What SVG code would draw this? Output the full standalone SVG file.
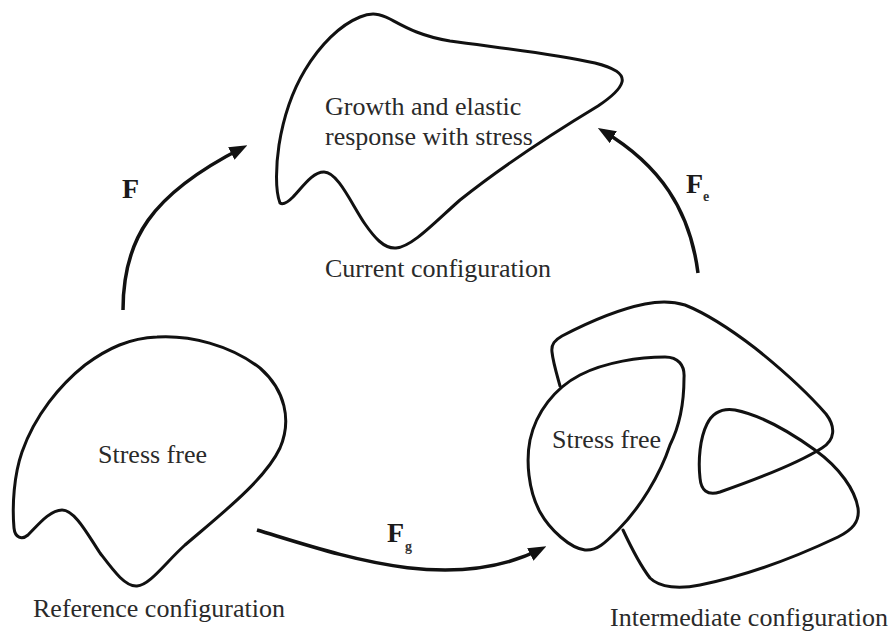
<svg xmlns="http://www.w3.org/2000/svg" width="894" height="633" viewBox="0 0 894 633">
<style>
.shape{fill:none;stroke:#111;stroke-width:3;stroke-linejoin:round;stroke-linecap:round}
.arrow{fill:none;stroke:#111;stroke-width:3.5;stroke-linecap:butt}
text{font-family:'Liberation Serif','Times New Roman',serif}
.lbl{font-size:26px;fill:#2a2a2a}
.sym{font-size:28px;font-weight:bold;fill:#1a1a1a}
.sub{font-size:14px;font-weight:bold;fill:#333}
</style>
<defs>
<marker id="ah" markerUnits="userSpaceOnUse" markerWidth="18" markerHeight="14" refX="12" refY="7" orient="auto">
<path d="M0,0 L18,7 L0,14 z" fill="#111"/>
</marker>
</defs>
<rect width="894" height="633" fill="#fff"/>
<g id="current">
<path class="shape" d="M280,203 C275,190 276,165 279,145 C283,120 290,95 305,70 C320,45 340,25 360,17 C372,12 380,14 390,19 C405,27 420,36 450,41 C500,48 550,53 595,63 C615,68 624,74 622,82 C620,90 610,98 598,106 C555,132 500,168 460,200 C435,222 412,247 396,248 C384,249 374,237 365,224 C352,205 338,172 324,172 C312,172 302,188 293,197 C288,202 283,205 280,203 Z"/>
<text class="lbl" font-family="Liberation Serif" x="325" y="115">Growth and elastic</text>
<text class="lbl" font-family="Liberation Serif" x="325" y="145">response with stress</text>
<text class="lbl" font-family="Liberation Serif" x="325" y="277">Current configuration</text>
</g>
<g id="reference">
<path class="shape" d="M157,337 C190,335 230,345 260,368 C285,390 292,420 280,448 C265,480 220,515 185,545 C165,563 150,585 137,586 C125,587 113,570 100,553 C88,535 75,510 62,510 C50,510 38,525 28,535 C22,540 15,538 14,528 C12,505 14,475 22,452 C35,415 60,385 85,365 C108,348 130,338 157,337 Z"/>
<text class="lbl" font-family="Liberation Serif" x="98" y="463">Stress free</text>
<text class="lbl" font-family="Liberation Serif" x="33" y="617">Reference configuration</text>
</g>
<g id="intermediate">
<path class="shape" d="M684,378 C684,400 680,425 670,445 C660,475 640,508 618,530 C605,543 597,551 585,550 C570,548 550,530 540,512 C528,490 526,460 530,440 C536,412 555,388 580,375 C605,362 640,357 665,357 C678,357 685,365 684,378 Z"/>
<path class="shape" d="M560,386 C557,375 553,362 552,352 C551,344 555,340 562,336 C585,324 615,310 645,304 C660,301 672,301 685,305 C700,311 725,325 755,348 C785,372 812,398 826,414 C836,427 835,440 822,448 C800,462 760,478 720,492 C707,496 701,490 700,478 C698,460 700,438 707,424 C713,412 722,408 735,410 C760,415 790,432 815,450 C840,468 855,490 858,508 C860,522 852,530 838,537 C800,555 750,575 700,585 C680,589 660,588 650,578 C640,565 630,545 623,530"/>
<text class="lbl" font-family="Liberation Serif" x="552" y="448">Stress free</text>
<text class="lbl" font-family="Liberation Serif" x="610" y="626">Intermediate configuration</text>
</g>
<g id="connectors">
<path class="arrow" marker-end="url(#ah)" d="M123,310 C123,240 150,195 242,148"/>
<path class="arrow" marker-end="url(#ah)" d="M698,273 C690,210 660,165 603,131"/>
<path class="arrow" marker-end="url(#ah)" d="M257,530 C340,555 450,595 541,549"/>
</g>
<g id="labels">
<text class="sym" font-family="Liberation Serif" x="122" y="198">F</text>
<text class="sym" font-family="Liberation Serif" x="686" y="193">F</text>
<text class="sub" font-family="Liberation Serif" x="703" y="201">e</text>
<text class="sym" font-family="Liberation Serif" x="387" y="542">F</text>
<text class="sub" font-family="Liberation Serif" x="405" y="551">g</text>
</g>
</svg>
